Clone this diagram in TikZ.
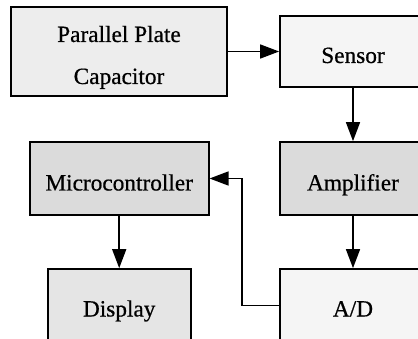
\documentclass[tikz,border=0pt]{standalone}
\usepackage{fontspec}
\setmainfont{Liberation Serif}
\newfontfamily\blkfont{Liberation Serif}[FakeBold=0.6]
\usetikzlibrary{arrows.meta}
\newcommand{\blktext}[2]{\raisebox{-#1pt}[0pt][0pt]{\makebox[0pt]{#2}}}
\begin{document}
\begin{tikzpicture}[x=1pt,y=-1pt,
  blk/.style={draw=black, line width=1.7pt, inner sep=0pt,
    font=\blkfont\fontsize{23.3}{28}\selectfont},
  arr/.style={line width=1.5pt, -{Triangle[length=19pt,width=14pt]}}]
\useasboundingbox (0,0) rectangle (418,339);
\clip (0,0) rectangle (418,339);
\fill[white] (0,0) rectangle (418,339);
\node[blk, fill=black!7, minimum width=216pt, minimum height=89pt] (pp) at (119,51.5)
  {\blktext{-9.5}{Parallel Plate}\blktext{32.5}{Capacitor}};
\node[blk, fill=black!4, minimum width=146pt, minimum height=71pt] (sensor) at (353,51.5) {\blktext{11.5}{Sensor}};
\node[blk, fill=black!14, minimum width=146pt, minimum height=73pt] (amp) at (353,178.5) {\blktext{12}{Amplifier}};
\node[blk, fill=black!14, minimum width=179pt, minimum height=73pt] (mc) at (119.2,178.5) {\blktext{12}{Microcontroller}};
\node[blk, fill=black!10, minimum width=143pt, minimum height=73pt] (disp) at (119.2,305.5) {\blktext{11}{Display}};
\node[blk, fill=black!4, minimum width=146pt, minimum height=73pt] (ad) at (353,305.5) {\blktext{11}{A/D}};
\draw[arr] (pp.east) -- (sensor.west);
\draw[arr] (sensor.south) -- (amp.north);
\draw[arr] (amp.south) -- (ad.north);
\draw[arr] (mc.south) -- (disp.north);
\draw[arr] (ad.west) -- ++(-37,0) |- (mc.east);
\end{tikzpicture}
\end{document}
